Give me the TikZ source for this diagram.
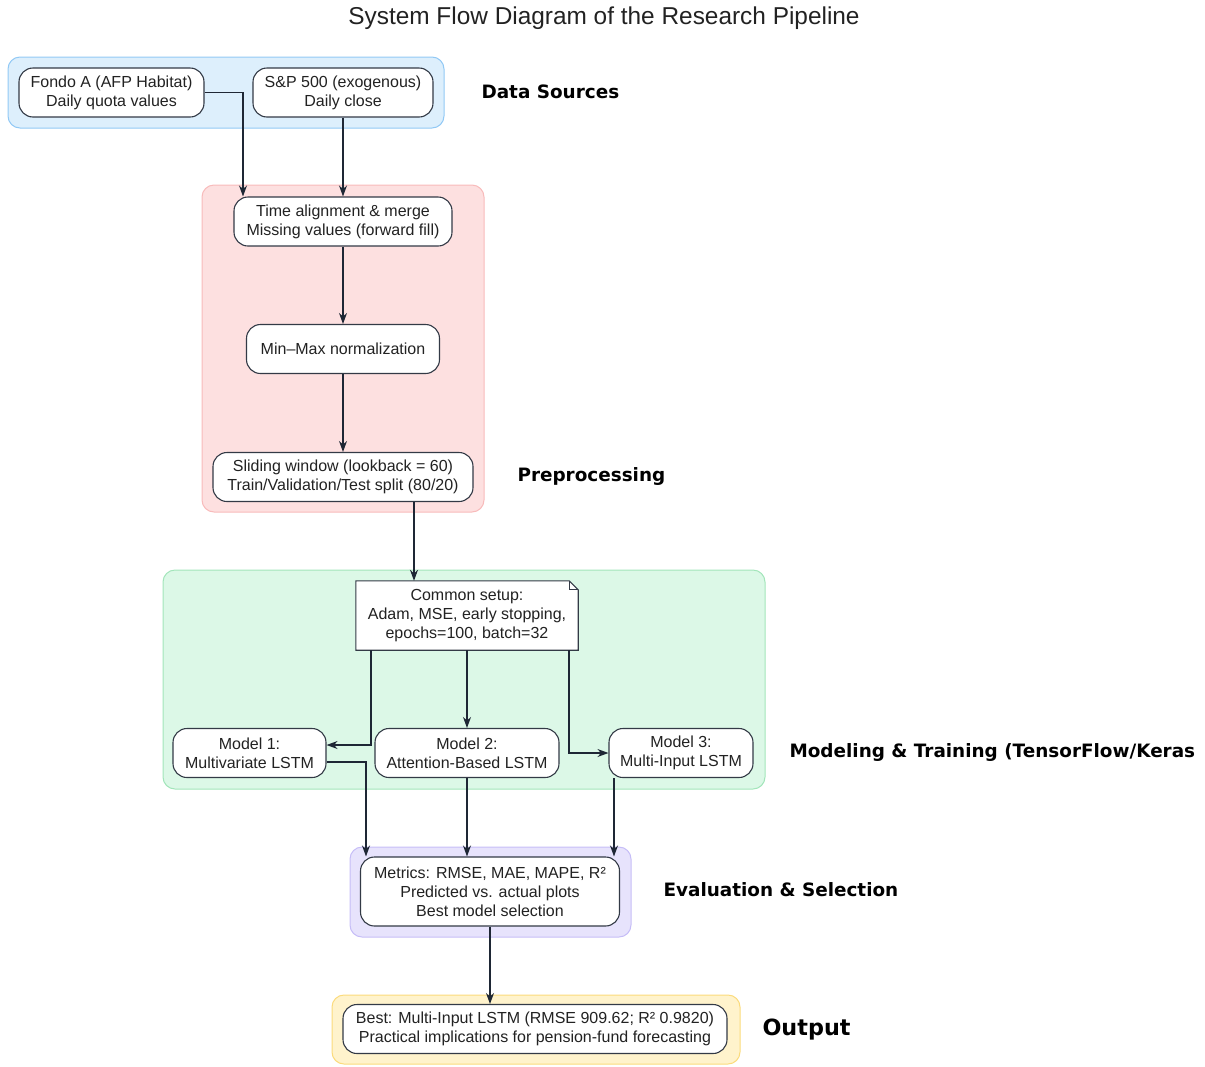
\documentclass[tikz,border=0pt]{standalone}
\usepackage{fontspec}
\setmainfont{Liberation Sans}
\newfontfamily\labelfont{DejaVu Sans}
\usetikzlibrary{arrows.meta,positioning}
\definecolor{ink}{HTML}{1E2735}
\definecolor{boxline}{HTML}{333A46}
\definecolor{txt}{HTML}{222222}
\definecolor{srcfill}{HTML}{DDEFFC}
\definecolor{srcline}{HTML}{92C9F5}
\definecolor{prefill}{HTML}{FDE0E0}
\definecolor{preline}{HTML}{F8BBBB}
\definecolor{modfill}{HTML}{DCF8E7}
\definecolor{modline}{HTML}{A2E5BA}
\definecolor{evalfill}{HTML}{E7E3FC}
\definecolor{evalline}{HTML}{C6BDF7}
\definecolor{outfill}{HTML}{FFF3CC}
\definecolor{outline}{HTML}{FBDB7C}
\newcommand{\nodefont}{\fontsize{16}{19}\selectfont}
\newcommand{\groupfont}{\labelfont\bfseries\fontsize{18.4}{22}\selectfont}

\begin{document}
\begin{tikzpicture}[x=1pt,y=-1pt,>=Stealth]
  \path[use as bounding box] (0,0) rectangle (1205,1066);
  \tikzset{
    stepbox/.style={draw=boxline,fill=white,line width=1.1pt,rounded corners=14pt,align=center,font=\nodefont,text=txt,minimum height=49pt,inner sep=3pt},
    group/.style={rounded corners=12pt,line width=1pt},
    grouplabel/.style={font=\groupfont,anchor=west,text=black},
    flow/.style={-{Stealth[length=11pt,width=8pt]},line width=1.1pt,ink}
  }
  \node[font=\fontsize{24.4}{28}\selectfont,text=txt] (title) at (604,18) {System Flow Diagram of the Research Pipeline};

  % clusters
  \draw[group,draw=srcline,fill=srcfill] (8,57) rectangle (444,128);
  \draw[group,draw=preline,fill=prefill] (202,185) rectangle (484,512);
  \draw[group,draw=modline,fill=modfill] (163,570) rectangle (765,789);
  \draw[group,draw=evalline,fill=evalfill] (350,847) rectangle (631,937);
  \draw[group,draw=outline,fill=outfill] (332,995) rectangle (740,1064);

  \node[grouplabel] (lsrc) at (478,92) {Data Sources};
  \node[grouplabel] (lpre) at (514,476) {Preprocessing};
  \node[grouplabel] (lmod) at (786,752) {Modeling \& Training (TensorFlow/Keras};
  \node[grouplabel] (leval) at (660,890) {Evaluation \& Selection};
  \node[grouplabel,font=\labelfont\bfseries\fontsize{22.3}{26}\selectfont] (lout) at (759,1030) {Output};

  % nodes
  \node[stepbox,minimum width=185pt] (fondo) at (111.5,92.5) {Fondo A (AFP Habitat)\\Daily quota values};
  \node[stepbox,minimum width=180pt] (sp) at (343,92.5) {S\&P 500 (exogenous)\\Daily close};
  \node[stepbox,minimum width=218pt] (align) at (343,221.5) {Time alignment \& merge\\Missing values (forward fill)};
  \node[stepbox,minimum width=193pt] (minmax) at (343,349) {Min--Max normalization};
  \node[stepbox,minimum width=260pt] (sliding) at (343,477) {Sliding window (lookback = 60)\\Train/Validation/Test split (80/20)};
  \node[font=\nodefont,text=txt,align=center,minimum width=222pt,minimum height=69pt,inner sep=3pt] (common) at (467,615.5) {Common setup:\\Adam, MSE, early stopping,\\epochs=100, batch=32};
  \draw[boxline,line width=1.1pt,fill=white] (common.north west) -- ([xshift=-9pt]common.north east) -- ([yshift=-9pt]common.north east) -- (common.south east) -- (common.south west) -- cycle;
  \draw[boxline,line width=0.8pt] ([xshift=-9pt]common.north east) -- ([xshift=-9pt,yshift=-9pt]common.north east) -- ([yshift=-9pt]common.north east);
  \node[font=\nodefont,text=txt,align=center] at (common) {Common setup:\\Adam, MSE, early stopping,\\epochs=100, batch=32};
  \node[stepbox,minimum width=153pt] (model1) at (249.5,753) {Model 1:\\Multivariate LSTM};
  \node[stepbox,minimum width=184pt] (model2) at (467,753) {Model 2:\\Attention-Based LSTM};
  \node[stepbox,minimum width=144pt] (model3) at (681,753) {Model 3:\\Multi-Input LSTM};
  \node[stepbox,minimum width=259pt,minimum height=69pt] (metrics) at (490,891.5) {Metrics: RMSE, MAE, MAPE, R²\\Predicted vs. actual plots\\Best model selection};
  \node[stepbox,minimum width=384pt] (best) at (535,1029) {Best: Multi-Input LSTM (RMSE 909.62; R² 0.9820)\\Practical implications for pension-fund forecasting};

  % edges
  \draw[flow] (fondo.east) -| ([xshift=-100pt]align.north);
  \draw[flow] (sp) -- (align);
  \draw[flow] (align) -- (minmax);
  \draw[flow] (minmax) -- (sliding);
  \draw[flow] ([xshift=71pt]sliding.south) -- ([xshift=-53pt]common.north);
  \draw[flow] ([xshift=-96pt]common.south) |- ([yshift=8pt]model1.east);
  \draw[flow] (common) -- (model2);
  \draw[flow] ([xshift=102pt]common.south) |- (model3.west);
  \draw[flow] ([yshift=-9pt]model1.east) -| ([xshift=-124pt]metrics.north);
  \draw[flow] (model2) -- ([xshift=-23pt]metrics.north);
  \draw[flow] ([xshift=-67pt]model3.south) -- ([xshift=124pt]metrics.north);
  \draw[flow] (metrics.south) -- ([xshift=-45pt]best.north);
\end{tikzpicture}
\end{document}
